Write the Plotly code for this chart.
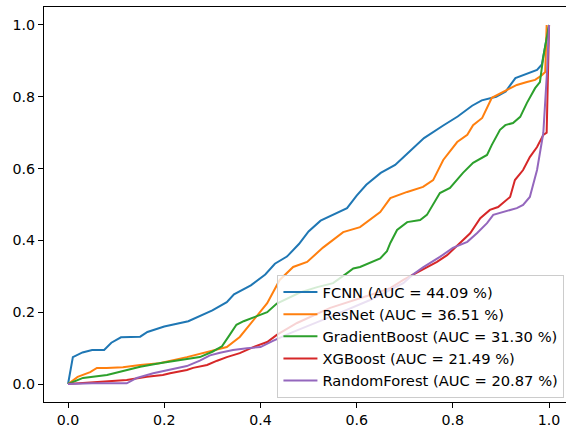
import plotly.graph_objects as go

names = ["FCNN (AUC = 44.09 %)", "ResNet (AUC = 36.51 %)", "GradientBoost (AUC = 31.30 %)",
         "XGBoost (AUC = 21.49 %)", "RandomForest (AUC = 20.87 %)"]
colors = ["#1f77b4", "#ff7f0e", "#2ca02c", "#d62728", "#9467bd"]

fcnn_x = [0, 0.01, 0.03, 0.05, 0.075, 0.09, 0.11, 0.15, 0.165, 0.2, 0.25, 0.3, 0.33, 0.345, 0.38, 0.41,
          0.43, 0.455, 0.48, 0.5, 0.525, 0.55, 0.58, 0.6, 0.62, 0.65, 0.68, 0.7, 0.74, 0.78, 0.81, 0.84,
          0.86, 0.89, 0.91, 0.93, 0.95, 0.975, 0.985, 1.0]
fcnn_y = [0, 0.075, 0.088, 0.095, 0.095, 0.115, 0.13, 0.132, 0.145, 0.16, 0.175, 0.205, 0.228, 0.25, 0.275,
          0.305, 0.335, 0.355, 0.39, 0.425, 0.455, 0.47, 0.49, 0.525, 0.555, 0.588, 0.61, 0.635, 0.685, 0.72,
          0.745, 0.775, 0.79, 0.8, 0.815, 0.852, 0.862, 0.875, 0.89, 1.0]

resnet_x = [0, 0.02, 0.046, 0.06, 0.08, 0.114, 0.15, 0.19, 0.247, 0.289, 0.33, 0.357, 0.385, 0.414, 0.44,
            0.468, 0.497, 0.53, 0.572, 0.607, 0.649, 0.67, 0.705, 0.738, 0.759, 0.78, 0.809, 0.83, 0.842,
            0.861, 0.881, 0.913, 0.933, 0.954, 0.971, 0.985, 0.992, 0.995]
resnet_y = [0, 0.02, 0.033, 0.045, 0.045, 0.047, 0.053, 0.058, 0.075, 0.089, 0.103, 0.131, 0.178, 0.225,
            0.29, 0.326, 0.34, 0.38, 0.423, 0.437, 0.479, 0.518, 0.535, 0.549, 0.568, 0.624, 0.674, 0.694,
            0.721, 0.741, 0.797, 0.819, 0.833, 0.841, 0.847, 0.86, 0.869, 1.0]

gb_x = [0, 0.031, 0.081, 0.108, 0.15, 0.19, 0.233, 0.274, 0.3, 0.32, 0.335, 0.35, 0.365, 0.385, 0.414,
        0.434, 0.462, 0.482, 0.518, 0.551, 0.58, 0.593, 0.607, 0.628, 0.649, 0.663, 0.67, 0.684, 0.705,
        0.732, 0.746, 0.773, 0.794, 0.821, 0.842, 0.871, 0.881, 0.898, 0.909, 0.925, 0.94, 0.954, 0.971,
        0.981, 0.988, 1.0]
gb_y = [0, 0.017, 0.025, 0.034, 0.048, 0.058, 0.067, 0.075, 0.09, 0.105, 0.135, 0.165, 0.175, 0.185, 0.2,
        0.224, 0.242, 0.255, 0.27, 0.281, 0.309, 0.322, 0.326, 0.337, 0.35, 0.37, 0.393, 0.429, 0.451,
        0.457, 0.471, 0.532, 0.546, 0.588, 0.616, 0.638, 0.666, 0.708, 0.721, 0.727, 0.744, 0.783, 0.824,
        0.841, 0.911, 1.0]

xgb_x = [0, 0.08, 0.122, 0.164, 0.197, 0.212, 0.247, 0.26, 0.289, 0.31, 0.33, 0.357, 0.385, 0.414, 0.434,
         0.476, 0.545, 0.628, 0.67, 0.697, 0.738, 0.767, 0.788, 0.815, 0.836, 0.857, 0.877, 0.894, 0.919,
         0.929, 0.946, 0.96, 0.975, 0.988, 0.995, 1.0]
xgb_y = [0, 0.006, 0.011, 0.02, 0.025, 0.03, 0.039, 0.045, 0.053, 0.065, 0.075, 0.086, 0.103, 0.117, 0.137,
         0.17, 0.212, 0.248, 0.267, 0.29, 0.318, 0.34, 0.359, 0.393, 0.42, 0.462, 0.485, 0.493, 0.521,
         0.568, 0.596, 0.632, 0.66, 0.694, 0.7, 1.0]

rf_x = [0, 0.05, 0.122, 0.143, 0.177, 0.212, 0.247, 0.274, 0.295, 0.316, 0.343, 0.372, 0.4, 0.426, 0.462,
        0.545, 0.628, 0.697, 0.717, 0.738, 0.773, 0.8, 0.83, 0.85, 0.871, 0.884, 0.904, 0.933, 0.946, 0.96,
        0.975, 0.988, 0.996, 1.0]
rf_y = [0, 0.002, 0.002, 0.017, 0.03, 0.039, 0.05, 0.065, 0.08, 0.087, 0.095, 0.1, 0.103, 0.12, 0.142,
        0.187, 0.234, 0.281, 0.305, 0.325, 0.354, 0.379, 0.396, 0.42, 0.448, 0.471, 0.479, 0.49, 0.499,
        0.521, 0.596, 0.699, 0.875, 1.0]

tick_vals = [0, 0.2, 0.4, 0.6, 0.8, 1.0]
tick_text = ["0.0", "0.2", "0.4", "0.6", "0.8", "1.0"]

series_x = [fcnn_x, resnet_x, gb_x, xgb_x, rf_x]
series_y = [fcnn_y, resnet_y, gb_y, xgb_y, rf_y]

fig = go.Figure()
for i, (nm, xs, ys, c) in enumerate(zip(names, series_x, series_y, colors)):
    fig.add_trace(go.Scatter(x=xs, y=ys, mode="lines", name=nm, legendgroup=str(i),
                             line=dict(color=c, width=2)))

font = dict(family="DejaVu Sans", size=14.2, color="black")
fig.update_layout(
    width=566, height=430,
    margin=dict(l=44, r=0, t=7, b=28, autoexpand=False),
    plot_bgcolor="white", paper_bgcolor="white",
    font=font,
    showlegend=True,
    legend=dict(x=0.997, y=0.01, xanchor="right", yanchor="bottom",
                bgcolor="rgba(255,255,255,0.8)", bordercolor="#cccccc", borderwidth=1,
                font=dict(family="DejaVu Sans", size=14.7, color="black"),
                tracegroupgap=0, itemwidth=34),
    xaxis=dict(range=[-0.05, 1.0352], tickvals=tick_vals, ticktext=tick_text, automargin=False,
               showgrid=False, zeroline=False, showline=True, linecolor="black", linewidth=1,
               mirror=True, ticks="outside", ticklen=5, tickcolor="black", tickwidth=1),
    yaxis=dict(range=[-0.05, 1.05], tickvals=tick_vals, ticktext=tick_text, automargin=False,
               showgrid=False, zeroline=False, showline=True, linecolor="black", linewidth=1,
               ticks="outside", ticklen=5, tickcolor="black", tickwidth=1),
)
fig.write_html("out.html", config={"displayModeBar": False},
               post_script="document.body.style.margin='0';document.body.style.overflow='hidden';")
